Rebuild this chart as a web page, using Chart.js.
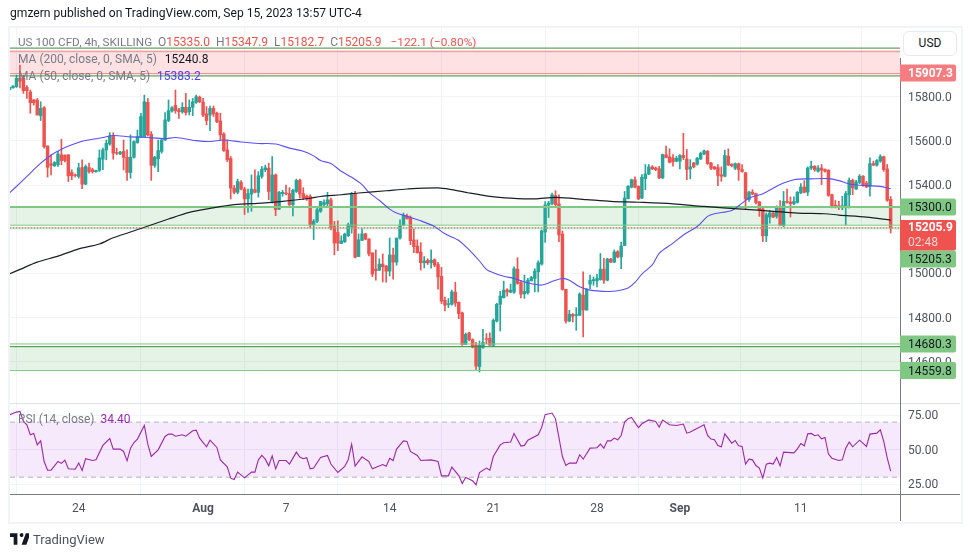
<!DOCTYPE html>
<html>
<head>
<meta charset="utf-8">
<title>US 100 CFD, 4h</title>
<script src="https://cdn.jsdelivr.net/npm/chart.js@4"></script>
<style>
body { margin: 0; background: #fff; font-family: Roboto, sans-serif; color: #131722; }
#wrap { position: relative; width: 970px; height: 557px; overflow: hidden; }
#frame { position: absolute; left: 8px; top: 26px; width: 951px; height: 494px; border: 2px solid #f0f3fa; }
canvas { position: absolute; left: 0; top: 0; }
.txt { position: absolute; white-space: pre; font-size: 12px; line-height: 14px; color: #787b86; }
.red { color: #ef5350; }
#usd { position: absolute; left: 903px; top: 31px; width: 52px; height: 23px; line-height: 23px; text-align: center; font-size: 12px; border: 1px solid #e6e9f0; border-radius: 6px; background: #fff; color: #131722; }
</style>
</head>
<body>
<div id="wrap">
  <div id="frame"></div>
  <canvas id="grafico" width="970" height="557"></canvas>
  <div class="txt" style="left:10px;top:5px;font-size:12.1px;line-height:16px;color:#131722">gmzern published on TradingView.com, Sep 15, 2023 13:57 UTC-4</div>
  <div class="txt" style="left:18px;top:35px"><span style="font-size:11.7px">US 100 CFD, 4h, SKILLING</span>  O<span class="red">15335.0</span>  H<span class="red">15347.9</span>  L<span class="red">15182.7</span>  C<span class="red">15205.9</span>  <span class="red" style="margin-left:3px;font-size:11.8px">−122.1 (−0.80%)</span></div>
  <div class="txt" style="left:18px;top:52px">MA (200, close, 0, SMA, 5)  <span style="color:#131722;margin-left:2px">15240.8</span></div>
  <div class="txt" style="left:18px;top:69px">MA (50, close, 0, SMA, 5)  <span style="color:#4a3fff;margin-left:1px">15383.2</span></div>
  <div class="txt" style="left:18px;top:412px">RSI (14, close)  <span style="color:#9c27b0">34.40</span></div>
  <div id="usd">USD</div>
  <svg style="position:absolute;left:10px;top:533px" width="19" height="12" viewBox="0 0 36 22"><path fill="#131722" d="M14 0H0v7h7v15h7V0Zm17 22h-9l8-22h9l-8 22ZM21 7a3.6 3.6 0 1 0 0-7 3.6 3.6 0 0 0 0 7Z"/></svg>
  <div class="txt" style="left:33px;top:532px;font-size:13px;line-height:16px;color:#50535e">TradingView</div>
</div>
<script>
// Velas de 4h
var opens = [
  15833,15840,15845,15885,15883,15842,15821,15785,15785,15714,
  15750,15577,15496,15487,15492,15537,15535,15537,15457,15446,
  15439,15479,15404,15479,15469,15460,15466,15517,15559,15586,
  15622,15547,15541,15552,15526,15457,15526,15592,15616,15619,
  15774,15630,15489,15519,15552,15604,15692,15735,15761,15740,
  15731,15752,15732,15752,15774,15798,15776,15722,15717,15747,
  15725,15690,15631,15559,15520,15386,15367,15412,15382,15337,
  15359,15379,15367,15439,15469,15476,15326,15446,15291,15361,
  15364,15361,15311,15371,15421,15361,15349,15349,15221,15236,
  15281,15311,15315,15333,15212,15185,15135,15143,15171,15212,
  15361,15076,15149,15179,15156,15093,15019,15015,15042,15033,
  15010,15083,15051,15160,15218,15260,15254,15151,15124,15097,
  15048,15059,15048,15062,15040,14987,14878,14859,14860,14915,
  14869,14821,14678,14730,14700,14675,14578,14665,14704,14706,
  14675,14784,14860,14890,14925,14915,14915,15019,14959,14907,
  14912,14966,14977,15007,15042,15187,15309,15316,15352,15315,
  15178,14928,14784,14815,14809,14810,14901,14834,14951,14966,
  14966,14972,15019,14969,15065,15051,15098,15074,15126,15338,
  15390,15424,15394,15341,15429,15450,15482,15477,15474,15432,
  15537,15527,15523,15508,15508,15534,15518,15473,15500,15494,
  15518,15540,15553,15500,15482,15479,15446,15440,15531,15494,
  15476,15496,15470,15455,15334,15368,15361,15324,15291,15170,
  15255,15273,15258,15300,15215,15326,15323,15315,15321,15364,
  15391,15368,15477,15485,15462,15477,15470,15467,15356,15309,
  15306,15297,15300,15356,15421,15382,15412,15440,15409,15394,
  15497,15490,15508,15528,15473,15335
];
var closes = [
  15842,15848,15883,15870,15827,15827,15773,15773,15717,15747,
  15574,15480,15489,15502,15541,15511,15511,15442,15442,15443,
  15478,15404,15484,15461,15461,15466,15523,15559,15589,15622,
  15544,15544,15549,15525,15457,15526,15597,15619,15710,15777,
  15627,15489,15526,15556,15604,15695,15737,15750,15737,15732,
  15752,15728,15752,15777,15800,15777,15717,15692,15747,15722,
  15687,15627,15556,15514,15386,15367,15416,15382,15337,15361,
  15382,15367,15442,15472,15478,15371,15446,15288,15367,15367,
  15360,15311,15376,15421,15359,15341,15337,15221,15236,15288,
  15326,15321,15333,15205,15137,15137,15147,15178,15220,15361,
  15073,15152,15179,15155,15088,14997,15012,15042,15030,15010,
  15083,15051,15160,15218,15262,15248,15148,15121,15094,15048,
  15056,15048,15059,15037,14984,14874,14856,14863,14916,14866,
  14818,14678,14724,14700,14666,14580,14674,14687,14701,14675,
  14787,14860,14897,14924,14916,14924,15021,14954,14906,14918,
  14969,14981,15010,15048,15192,15310,15318,15356,15311,15174,
  14927,14784,14815,14806,14813,14906,14834,14928,14969,14972,
  14977,15019,14969,15065,15051,15097,15074,15124,15341,15394,
  15424,15390,15337,15435,15450,15482,15473,15470,15432,15538,
  15524,15503,15505,15521,15534,15524,15470,15482,15482,15521,
  15543,15555,15497,15476,15473,15443,15440,15534,15491,15488,
  15497,15470,15461,15337,15368,15359,15321,15288,15170,15265,
  15273,15255,15300,15218,15326,15321,15315,15326,15367,15391,
  15367,15477,15485,15470,15477,15467,15462,15353,15306,15303,
  15300,15306,15361,15421,15387,15414,15440,15397,15391,15497,
  15490,15511,15529,15470,15331,15205.9
];
var highs = [
  15845,15850,15898,15943,15898,15850,15830,15787,15792,15777,
  15755,15577,15537,15506,15552,15607,15537,15537,15469,15450,
  15499,15514,15491,15499,15476,15468,15559,15567,15604,15637,
  15637,15567,15552,15604,15559,15627,15600,15649,15725,15807,
  15792,15642,15530,15604,15612,15728,15785,15755,15830,15747,
  15773,15815,15785,15792,15807,15803,15792,15755,15758,15758,
  15730,15725,15637,15604,15529,15398,15427,15420,15390,15382,
  15446,15469,15461,15484,15490,15499,15529,15450,15372,15376,
  15400,15388,15382,15427,15427,15388,15355,15356,15244,15303,
  15326,15333,15367,15341,15235,15238,15170,15182,15228,15367,
  15371,15179,15202,15182,15156,15093,15106,15066,15088,15036,
  15160,15115,15160,15242,15273,15268,15260,15201,15152,15139,
  15076,15066,15106,15066,15050,15027,14893,14886,14924,14960,
  14871,14825,14730,14734,14704,14688,14694,14747,14727,14731,
  14794,14865,14919,14965,14931,14951,15030,15071,14969,14992,
  14977,14987,15021,15057,15197,15325,15326,15364,15374,15356,
  15192,14928,14833,14818,14845,14912,15007,14931,14992,14984,
  14996,15090,15068,15068,15068,15106,15103,15142,15371,15397,
  15427,15437,15397,15447,15493,15493,15488,15482,15485,15540,
  15576,15564,15538,15530,15538,15634,15561,15515,15503,15525,
  15549,15558,15556,15503,15485,15493,15482,15558,15564,15497,
  15500,15500,15493,15458,15371,15379,15364,15326,15296,15273,
  15285,15276,15306,15330,15371,15382,15346,15346,15371,15406,
  15420,15482,15508,15488,15488,15493,15473,15470,15359,15330,
  15326,15349,15371,15432,15427,15421,15447,15443,15417,15523,
  15508,15515,15537,15531,15493,15347.9
];
var lows = [
  15830,15838,15842,15840,15815,15792,15725,15762,15717,15692,
  15567,15436,15446,15484,15484,15492,15505,15416,15424,15436,
  15431,15383,15401,15454,15454,15458,15461,15469,15514,15580,
  15517,15537,15538,15469,15421,15431,15522,15589,15616,15616,
  15622,15421,15480,15461,15544,15601,15687,15730,15725,15702,
  15725,15717,15717,15714,15770,15773,15710,15672,15646,15710,
  15682,15604,15552,15506,15337,15360,15360,15378,15266,15276,
  15281,15364,15345,15431,15460,15334,15318,15261,15288,15349,
  15355,15303,15260,15366,15341,15334,15330,15206,15153,15230,
  15276,15306,15306,15197,15084,15103,15135,15140,15167,15182,
  15070,15076,15149,15152,15079,14985,14969,15012,14961,14960,
  14988,14974,15037,15155,15215,15245,15130,15094,15091,15015,
  15025,15040,15023,15030,14928,14863,14830,14845,14856,14851,
  14795,14674,14677,14694,14663,14565,14553,14660,14681,14674,
  14669,14780,14739,14888,14897,14912,14909,14951,14889,14887,
  14906,14966,14916,14916,15037,15140,15253,15310,15299,15144,
  14924,14775,14781,14780,14742,14809,14712,14833,14931,14946,
  14939,14969,14954,14966,15048,15048,15070,15021,15126,15337,
  15387,15387,15334,15338,15379,15447,15470,15465,15429,15429,
  15523,15500,15485,15505,15473,15515,15424,15428,15478,15490,
  15515,15537,15493,15470,15470,15397,15417,15437,15488,15482,
  15470,15421,15458,15291,15326,15356,15315,15258,15144,15144,
  15227,15252,15250,15215,15212,15318,15255,15311,15318,15361,
  15364,15352,15470,15462,15458,15402,15458,15349,15296,15296,
  15288,15288,15220,15296,15356,15379,15406,15394,15388,15349,
  15488,15485,15503,15462,15326,15182.7
];

// Médias móveis lidas em alguns pontos
var ma50Bars = [0,3,6,9,12,15,18,21,24,27,30,35,39,45,48,54,58,62,67,72,77,81,85,88,90,93,96,99,102,104,107,110,112,115,119,123,126,130,133,136,138,140,143,146,150,154,157,160,162,165,168,173,176,179,181,183,186,188,192,195,199,202,204,209,212,214,218,223,227,232,237,240,243,248,252,255];
var ma50Values = [15364,15409,15454,15499,15535,15562,15582,15598,15607,15615,15624,15618,15616,15610,15615,15601,15597,15604,15595,15588,15586,15567,15553,15532,15511,15497,15462,15435,15402,15367,15331,15291,15273,15258,15238,15212,15179,15149,15106,15056,15018,15003,14987,14977,14957,14947,14963,14977,14969,14939,14924,14918,14921,14934,14959,14997,15038,15091,15137,15174,15212,15258,15270,15285,15318,15341,15361,15402,15424,15428,15429,15420,15405,15397,15394,15383.2];
var ma200Bars = [0,3,8,14,20,26,30,38,46,52,58,65,73,79,87,90,96,101,109,115,124,128,133,139,145,152,158,167,174,182,192,201,212,221,228,236,240,248,255];
var ma200Values = [14998,15018,15051,15078,15111,15133,15161,15203,15246,15276,15294,15311,15318,15326,15340,15348,15356,15364,15374,15382,15387,15379,15364,15349,15341,15337,15344,15334,15326,15322,15315,15303,15291,15281,15273,15270,15264,15255,15240.8];

// RSI
var rsiBars = [0,2,3,4,5,6,7,8,9,10,11,12,14,15,16,17,19,20,21,22,24,25,27,29,30,32,33,34,35,36,37,39,40,41,43,45,46,47,48,50,51,53,54,55,57,58,60,61,63,64,65,66,68,70,71,72,73,74,75,76,77,78,80,81,83,84,85,86,87,88,90,92,93,95,97,98,99,100,102,104,105,108,109,110,111,112,114,115,116,118,119,122,124,125,127,128,130,131,132,134,135,136,138,139,140,142,143,145,146,148,149,150,153,154,155,157,158,160,161,162,164,165,166,168,170,171,172,173,174,175,176,177,178,179,180,182,183,185,187,188,189,191,193,195,196,197,201,202,203,204,205,206,207,209,210,211,212,213,214,215,216,217,218,219,220,221,222,223,224,227,228,229,230,231,232,233,234,235,236,237,238,240,241,242,243,244,246,248,249,251,252,253,254,255];
var rsiValues = [75.4,77.3,77.8,70.5,68.1,60.8,61.8,53.5,56.4,41.4,35.1,35.1,41.4,40,42.4,36.1,35.8,40.4,34.9,43.4,42.1,42.6,53.1,58.1,50.4,50.4,48.7,41.9,51.1,55.2,57.7,67.6,54,45.1,49.9,59.6,61.3,61.3,59.8,60.8,59.8,63.7,64.2,58.4,52.1,56.9,51.6,42.6,37.5,29.3,28.3,33.7,29.5,33.7,33.7,42.6,45.8,43.1,38.3,45.5,36.1,42.1,42.1,39.5,48.2,44.6,43.4,44.1,36.1,36.6,44.3,45.8,39.6,33.4,37.8,42.6,54,38,44.8,41.4,36.1,39.2,38,43.8,42.1,50.4,56.4,56,48.7,45.8,42.1,42.6,41.4,31,31,37.3,31.2,25.4,29.8,27.4,24.5,33.4,36.6,35.1,45,53.5,55,55.5,61.8,52.6,53.1,56.9,60.8,66.2,75.4,76.6,72.4,45,38.5,40.2,40.2,46.3,43.1,51.1,51.4,54,51.1,56.4,56.4,58.4,57.2,60.3,70,72.4,73.4,66.1,68.8,71.6,70.5,66.4,71.5,68.1,67.6,68.6,62,62.8,68.1,60.3,57.7,57.2,53,52.1,61.5,54.7,56.7,52.8,52.3,39.5,43.1,42.6,38.5,36.6,29.3,39.5,40.2,39.5,44.3,38.3,48.2,47.7,50.6,54.5,52.8,61.5,61.8,60.1,60.8,57.9,58.9,46.8,43.8,42.1,42.6,51.1,55.5,52.1,56.9,52.3,61.3,62,64.4,56,44,34.4];
var rsiBand = [70, 30];

// Eixos
var tickBars = [20, 56, 80, 110, 140, 170, 194, 229];
var tickLabels = ['24', 'Aug', '7', '14', '21', '28', 'Sep', '11'];
var priceTicks = [14600, 14800, 15000, 15200, 15400, 15600, 15800, 16000];
var rsiTicks = [25, 50, 75];

// Zonas e níveis
var redZone = [16006, 15904];
var redZoneEdges = [15894, 16020];
var greenZoneA = [15300, 15218];
var greenZoneB = [14668, 14559.8];
var greenLines = [15218, 14680.3, 14559.8, 15205.3];
var lastPrice = 15205.9;

var verde = '#26a69a', vermelho = '#ef5350';
var xMin = 0.12, xMax = 257.7;

function nivel(v) { return [{ x: xMin, y: v }, { x: xMax, y: v }]; }
function pontos(bars, vals) { return bars.map(function (b, i) { return { x: b, y: vals[i] }; }); }
function linha(data, cor, largura, extra) {
    return Object.assign({ type: 'line', data: data, borderColor: cor, borderWidth: largura, pointRadius: 0, tension: 0, yAxisID: 'y', order: 2 }, extra || {});
}
function zona(lim, cor, eixo) {
    return linha(nivel(lim[0]), 'rgba(0,0,0,0)', 0, { fill: { value: lim[1] }, backgroundColor: cor, yAxisID: eixo || 'y', order: 5 });
}

var corVela = opens.map(function (o, i) { return closes[i] >= o ? verde : vermelho; });

var datasets = [
    zona(redZone, 'rgba(242,54,69,0.15)'),
    zona(greenZoneA, 'rgba(76,175,80,0.15)'),
    zona(greenZoneB, 'rgba(76,175,80,0.15)'),
    zona(rsiBand, 'rgba(156,39,220,0.1)', 'rsi'),
    linha(nivel(redZone[0]), '#f77c80', 1),
    linha(nivel(redZone[1]), '#f77c80', 1),
    linha(nivel(redZoneEdges[0]), '#388e3c', 1),
    linha(nivel(redZoneEdges[1]), '#388e3c', 1),
    linha(nivel(greenZoneA[0]), '#81c784', 2),
    linha(nivel(greenLines[0]), '#81c784', 1),
    linha(nivel(greenLines[1]), '#81c784', 1),
    linha(nivel(greenZoneB[0]), '#388e3c', 1),
    linha(nivel(greenLines[2]), '#81c784', 1),
    linha(nivel(greenLines[3]), '#81c784', 1),
    linha(nivel(lastPrice), vermelho, 1, { borderDash: [1, 2], order: 1 }),
    linha(nivel(rsiBand[0]), '#b2b5be', 1, { borderDash: [5, 4], yAxisID: 'rsi' }),
    linha(nivel(rsiBand[1]), '#b2b5be', 1, { borderDash: [5, 4], yAxisID: 'rsi' }),
    {
        type: 'bar', grouped: false, order: 4, yAxisID: 'y', barThickness: 1,
        data: lows.map(function (l, i) { return { x: i, y: [l, highs[i]] }; }),
        backgroundColor: corVela
    },
    {
        type: 'bar', grouped: false, order: 3, yAxisID: 'y', barThickness: 2.8,
        data: opens.map(function (o, i) { return { x: i, y: [o, closes[i]] }; }),
        backgroundColor: corVela
    },
    linha(pontos(ma200Bars, ma200Values), '#1c1f2b', 1.2, { order: 1, tension: 0.3 }),
    linha(pontos(ma50Bars, ma50Values), '#5a50f5', 1.1, { order: 1, tension: 0.3 }),
    linha(pontos(rsiBars, rsiValues), '#9c27a8', 1.1, { yAxisID: 'rsi', order: 1 })
];

// Etiquetas do eixo de preços: valor, texto, fundo, deslocamento vertical
var priceLabels = [
    { v: 15907.3, t: '15907.3', bg: '#f77c80', fg: '#fff', dy: 0, bold: true },
    { v: 15300, t: '15300.0', bg: '#81c784', fg: '#131722', dy: 0 },
    { v: 15205.3, t: '15205.3', bg: '#81c784', fg: '#131722', dy: 31 },
    { v: 14680.3, t: '14680.3', bg: '#81c784', fg: '#131722', dy: 0 },
    { v: 14559.8, t: '14559.8', bg: '#81c784', fg: '#131722', dy: 0 }
];

var fonteEixo = 'Roboto, sans-serif';

var moldura = {
    id: 'moldura',
    afterDraw: function (chart) {
        var c = chart.ctx, a = chart.chartArea, s = chart.scales.y;
        c.save();
        c.strokeStyle = '#e0e3eb'; c.lineWidth = 1;
        c.beginPath(); c.moveTo(a.left, s.bottom + 0.5); c.lineTo(a.right + 60, s.bottom + 0.5); c.stroke();
        c.strokeStyle = '#787b86';
        c.beginPath(); c.moveTo(a.right + 0.5, 58); c.lineTo(a.right + 0.5, 521); c.stroke();
        c.beginPath(); c.moveTo(a.left, a.bottom + 0.5); c.lineTo(a.right + 60, a.bottom + 0.5); c.stroke();
        c.textBaseline = 'middle'; c.textAlign = 'left';
        priceLabels.forEach(function (l) {
            var y = s.getPixelForValue(l.v) + l.dy;
            c.fillStyle = l.bg;
            c.beginPath(); c.roundRect(a.right, y - 8.5, 56, 17, [0, 2, 2, 0]); c.fill();
            c.fillStyle = l.fg;
            c.font = (l.bold ? 'bold ' : '') + '12px ' + fonteEixo;
            c.fillText(l.t, a.right + 8, y + 1);
        });
        var yp = s.getPixelForValue(lastPrice) + 7;
        c.fillStyle = vermelho;
        c.beginPath(); c.roundRect(a.right, yp - 15, 56, 30.5, [0, 2, 2, 0]); c.fill();
        c.fillStyle = '#fff'; c.font = 'bold 12px ' + fonteEixo;
        c.fillText(lastPrice.toFixed(1), a.right + 8, yp - 7);
        c.fillStyle = 'rgba(255,255,255,0.75)'; c.font = '12px ' + fonteEixo;
        c.fillText('02:48', a.right + 8, yp + 8);
        c.restore();
    }
};

var gradeCor = '#f0f3fa';

new Chart(document.getElementById('grafico').getContext('2d'), {
    type: 'bar',
    data: { datasets: datasets },
    plugins: [moldura],
    options: {
        responsive: false,
        animation: false,
        layout: { padding: { left: 10, top: 28, right: 10, bottom: 36 } },
        plugins: { legend: { display: false }, tooltip: { enabled: false } },
        scales: {
            x: {
                type: 'linear', min: xMin, max: xMax, offset: false,
                afterBuildTicks: function (s) { s.ticks = tickBars.map(function (v) { return { value: v }; }); },
                afterFit: function (s) { s.height = 27; },
                grid: { color: gradeCor, drawTicks: false },
                border: { display: false },
                ticks: {
                    autoSkip: false, maxRotation: 0, padding: 8, color: '#50535e',
                    font: function (ctx) {
                        var lab = tickLabels[tickBars.indexOf(ctx.tick ? ctx.tick.value : -1)];
                        return { family: fonteEixo, size: 12, weight: (lab === 'Aug' || lab === 'Sep') ? 'bold' : 'normal' };
                    },
                    callback: function (v) { return tickLabels[tickBars.indexOf(v)]; }
                }
            },
            y: {
                type: 'linear', position: 'right', stack: 'paineis', stackWeight: 375, min: 14413, max: 16111,
                afterBuildTicks: function (s) { s.ticks = priceTicks.map(function (v) { return { value: v }; }); },
                afterFit: function (s) { s.width = 60; },
                grid: { color: gradeCor, drawTicks: false },
                border: { display: false },
                ticks: {
                    autoSkip: false, padding: 8, labelOffset: 1, color: '#50535e', font: { family: fonteEixo, size: 12 },
                    callback: function (v) { return v === 16000 ? '' : v.toFixed(1); }
                }
            },
            rsi: {
                type: 'linear', position: 'right', stack: 'paineis', stackWeight: 91, min: 17.8, max: 83.9,
                afterBuildTicks: function (s) { s.ticks = rsiTicks.map(function (v) { return { value: v }; }); },
                afterFit: function (s) { s.width = 60; },
                grid: { color: gradeCor, drawTicks: false },
                border: { display: false },
                ticks: {
                    autoSkip: false, padding: 8, labelOffset: 1, color: '#50535e', font: { family: fonteEixo, size: 12 },
                    callback: function (v) { return v.toFixed(2); }
                }
            }
        }
    }
});
</script>
</body>
</html>
